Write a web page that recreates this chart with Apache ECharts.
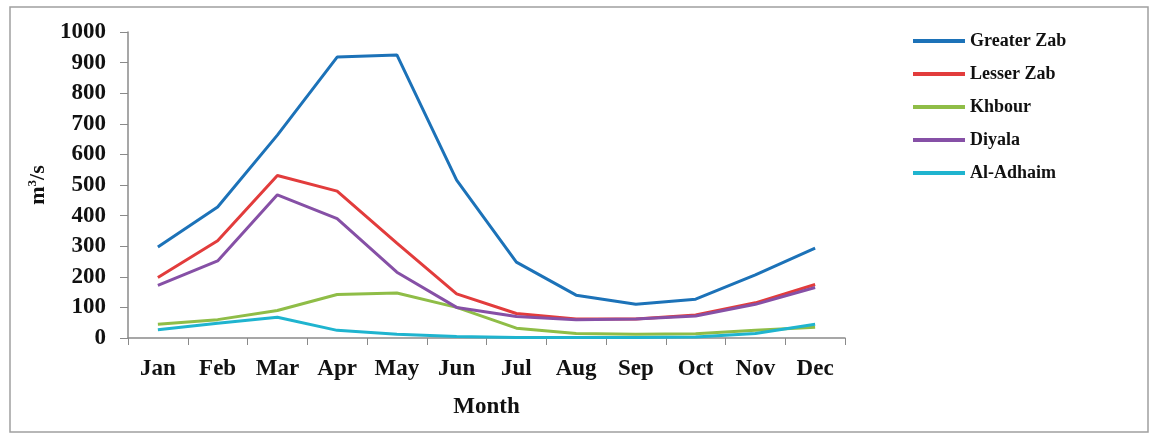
<!DOCTYPE html>
<html>
<head>
<meta charset="utf-8">
<script src="https://cdn.jsdelivr.net/npm/echarts@6/dist/echarts.min.js"></script>
<style>html,body{margin:0;padding:0;background:#fff;}#c{width:1153px;height:434px;}</style>
</head>
<body>
<div id="c"></div>
<script>
const months = ['Jan','Feb','Mar','Apr','May','Jun','Jul','Aug','Sep','Oct','Nov','Dec'];
const greaterZab = [297, 428, 663, 918, 925, 516, 248, 140, 110, 127, 206, 294];
const lesserZab  = [198, 318, 531, 480, 310, 144, 80, 62, 62, 75, 115, 175];
const khbour     = [45, 60, 90, 142, 147, 100, 32, 15, 12, 14, 25, 35];
const diyala     = [172, 252, 468, 390, 215, 100, 70, 60, 62, 72, 110, 165];
const alAdhaim   = [27, 48, 68, 25, 12, 5, 2, 2, 2, 3, 15, 45];
const seriesNames = ['Greater Zab','Lesser Zab','Khbour','Diyala','Al-Adhaim'];
const seriesColors = ['#1c72b8','#e23c3c','#8fbd47','#8650a6','#1fb4cf'];
const seriesData = [greaterZab, lesserZab, khbour, diyala, alAdhaim];

const font = 'Liberation Serif';
const chart = echarts.init(document.getElementById('c'));
chart.setOption({
  animation: false,
  backgroundColor: '#fff',
  graphic: [{
    type: 'rect', shape: {x: 10, y: 7, width: 1138, height: 425},
    style: {fill: 'none', stroke: '#a0a0a0', lineWidth: 1.5}, silent: true, z: -1
  }],
  grid: {left: 128, right: 308, top: 32, bottom: 96},
  legend: {
    orient: 'vertical', left: 908, top: 27,
    icon: 'rect', itemWidth: 52, itemHeight: 4, itemGap: 15,
    textStyle: {fontFamily: font, fontWeight: 'bold', fontSize: 18, color: '#111'},
    data: seriesNames
  },
  xAxis: {
    type: 'category', data: months, boundaryGap: true,
    name: 'Month', nameLocation: 'middle', nameGap: 58,
    nameTextStyle: {fontFamily: font, fontWeight: 'bold', fontSize: 23, color: '#111'},
    axisLine: {lineStyle: {color: '#8a8a8a', width: 1.5}},
    axisTick: {show: true, alignWithLabel: false, length: 7, lineStyle: {color: '#8a8a8a'}},
    axisLabel: {fontFamily: font, fontWeight: 'bold', fontSize: 23, color: '#111', margin: 20}
  },
  yAxis: {
    type: 'value', min: 0, max: 1000, interval: 100,
    name: '{a|m}{b|3}{a|/s}', nameLocation: 'middle', nameGap: 70,
    nameTextStyle: {
      rich: {
        a: {fontFamily: font, fontWeight: 'bold', fontSize: 22, color: '#111'},
        b: {fontFamily: font, fontWeight: 'bold', fontSize: 13, color: '#111', verticalAlign: 'top', padding: [0,0,10,0]}
      }
    },
    axisLine: {show: true, lineStyle: {color: '#8a8a8a', width: 1.5}},
    axisTick: {show: true, length: 8, lineStyle: {color: '#8a8a8a'}},
    splitLine: {show: false},
    axisLabel: {fontFamily: font, fontWeight: 'bold', fontSize: 23, color: '#111', margin: 22,
      formatter: v => String(v)}
  },
  series: seriesNames.map((n, i) => ({
    name: n, type: 'line', data: seriesData[i], symbol: 'none',
    lineStyle: {width: 3, color: seriesColors[i]}, itemStyle: {color: seriesColors[i]}
  }))
});
</script>
</body>
</html>
